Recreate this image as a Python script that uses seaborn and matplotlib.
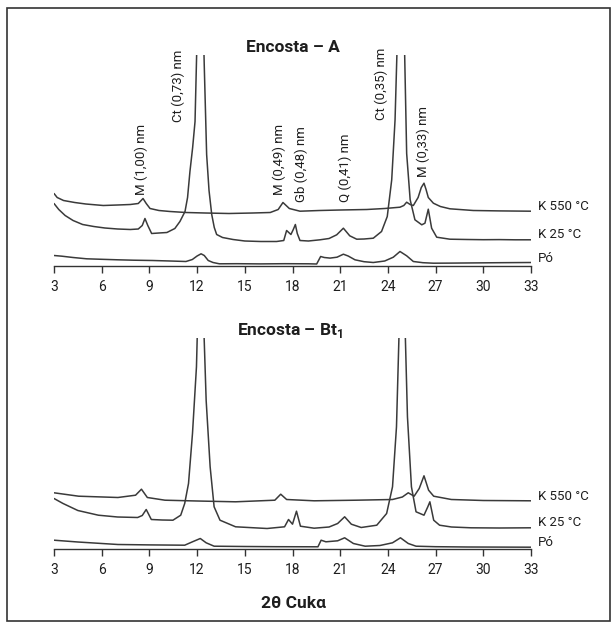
import numpy as np
import matplotlib
matplotlib.use("Agg")
import matplotlib.pyplot as plt
import matplotlib.patches as patches
import seaborn as sns

# ------------------------------------------------------------------------
# Data (2theta, relative intensity)
# ------------------------------------------------------------------------
a_po = [(3.0, 10), (3.5, 9.3), (4.2, 8), (5.05, 6.7), (6, 6.2), (7, 5.7), (8, 5.3),
        (9.2, 5), (10.3, 4.5), (11.3, 4), (11.7, 6), (12.0, 9.5), (12.25, 11.7),
        (12.45, 10), (12.7, 5), (13.0, 3), (13.4, 1.7), (14.5, 1.8), (16, 1.6),
        (17.5, 1.8), (19.0, 1.7), (19.52, 1.5), (19.77, 9), (20.0, 8), (20.36, 7.4),
        (20.8, 8.3), (21.2, 11.3), (21.5, 9.5), (21.93, 5.7), (22.5, 3.8), (23.08, 3),
        (23.8, 4.5), (24.34, 8.3), (24.76, 14), (25.18, 9.7), (25.6, 4), (26.2, 2.8),
        (26.86, 2.3), (28, 2.4), (29.5, 2.6), (31, 2.8), (33, 3)]

a_k25 = [(3.0, 62), (3.3, 56), (3.7, 50), (4.2, 45), (4.8, 41), (5.5, 39), (6.2, 37.5),
         (7, 36.5), (7.8, 36), (8.3, 36.5), (8.55, 40), (8.72, 47), (8.9, 40),
         (9.14, 32), (9.6, 32.5), (10.1, 33), (10.6, 37), (10.92, 44), (11.24, 54),
         (11.4, 68), (11.55, 94), (11.72, 118), (11.87, 144), (12.0, 230), (12.18, 330),
         (12.3, 300), (12.45, 200), (12.6, 111), (12.75, 75), (12.92, 51), (13.08, 38),
         (13.23, 31), (13.6, 28), (14.26, 26), (15, 24.5), (16, 24), (17, 24),
         (17.45, 25), (17.63, 35), (17.9, 31), (18.05, 36), (18.18, 41), (18.3, 32),
         (18.47, 25), (19, 24.5), (19.73, 25.7), (20.3, 27), (20.78, 30.7), (21.2, 37.3),
         (21.6, 29.7), (22.04, 26.3), (22.5, 26.5), (23.08, 27.3), (23.6, 34),
         (23.96, 49), (24.24, 85.7), (24.45, 145.7), (24.6, 230), (24.8, 330),
         (25.03, 230), (25.18, 112), (25.4, 65.7), (25.7, 45.7), (26.13, 40.7),
         (26.33, 42.3), (26.54, 56.3), (26.75, 37.3), (27.07, 28.3), (27.9, 26.3),
         (29, 26), (30, 25.8), (31, 25.9), (32, 25.7), (33, 25.7)]

a_k550 = [(3.0, 72), (3.2, 68), (3.6, 65), (4.3, 63), (5, 61.5), (6.1, 60), (7, 60.5),
          (7.8, 61), (8.3, 62), (8.6, 67), (8.8, 62), (9.04, 57), (9.6, 55), (10.3, 54),
          (11.3, 53), (12.5, 52.5), (14, 52), (15.5, 52.5), (16.6, 53), (17.1, 56),
          (17.4, 63), (17.6, 60), (17.8, 57), (18.47, 54.3), (19.7, 55), (21, 55.5),
          (22.67, 56), (23.8, 57), (24.76, 58.3), (25.0, 60), (25.18, 63.3), (25.4, 61),
          (25.6, 60), (25.9, 68), (26.1, 78), (26.27, 82.3), (26.4, 76), (26.54, 68),
          (26.86, 62.3), (27.3, 59), (27.9, 56.7), (29.37, 55), (31, 54.6), (33, 54.3)]

bt_po = [(3.0, 8.3), (4.5, 6.5), (7.02, 4), (9, 3.6), (11.22, 3.3), (11.71, 6.7),
         (12.2, 10), (12.57, 5.7), (13.07, 2.3), (15, 2), (17, 1.8), (19.6, 1.7),
         (19.8, 8.3), (20.1, 6.7), (20.84, 7.7), (21.28, 10.7), (21.83, 5), (22.57, 2.3),
         (23.5, 3), (24.29, 5.7), (24.79, 10.7), (25.28, 5), (25.77, 2.3), (27, 1.8),
         (29, 1.5), (31, 1.4), (33, 1.3)]

bt_k25 = [(3.0, 50), (3.57, 45), (4.5, 38), (5.79, 33.3), (7, 31.5), (8.26, 31),
          (8.55, 33), (8.8, 39), (9.12, 29), (9.8, 28.5), (10.48, 28.3), (10.97, 33.3),
          (11.22, 45), (11.46, 65), (11.71, 115), (11.96, 181.7), (12.2, 330),
          (12.57, 148), (12.82, 81.7), (13.07, 41.7), (13.44, 28.3), (14.42, 21.7),
          (16.4, 20), (17.5, 21.7), (17.75, 29), (18.0, 24.3), (18.25, 37.3), (18.5, 22.3),
          (19.36, 20.3), (20.3, 21.5), (20.84, 25), (21.28, 31.7), (21.7, 24.3),
          (22.32, 21), (23.3, 23.3), (23.92, 35), (24.29, 61.7), (24.54, 121.7),
          (24.9, 330), (25.23, 131.7), (25.48, 61.7), (25.77, 36.7), (26.27, 33.3),
          (26.51, 41.7), (26.64, 46.7), (26.88, 28.3), (27.25, 23.3), (28, 21.5),
          (29.23, 20.7), (31, 20.5), (33, 20.7)]

bt_k550 = [(3.0, 55.7), (4.55, 52.3), (7.02, 51), (8.13, 53.3), (8.5, 59.3), (8.87, 51),
           (9.98, 48.3), (12, 47.5), (14.42, 46.7), (16.89, 48.3), (17.26, 54.3),
           (17.63, 49), (19.36, 47.7), (22, 48.3), (24.29, 49), (24.91, 51.5),
           (25.28, 55.7), (25.65, 52.3), (25.97, 60), (26.27, 72.7), (26.56, 58.3),
           (26.88, 52.3), (27.99, 49), (30, 48), (33, 47.7)]

series_names = ["K 550 °C", "K 25 °C", "Pó"]
top_label_y = [58.8, 30.5, 7.2]
bottom_label_y = [51.8, 25.5, 5.5]

peak_labels = ["M (1,00) nm", "Ct (0,73) nm", "M (0,49) nm", "Gb (0,48) nm",
               "Q (0,41) nm", "Ct (0,35) nm", "M (0,33) nm"]
peak_x = [8.51, 10.82, 17.17, 18.58, 21.3, 23.6, 26.2]
peak_y = [70.5, 143.8, 70.5, 63.8, 63.8, 145.5, 88.8]

xticks = [3, 6, 9, 12, 15, 18, 21, 24, 27, 30, 33]

# ------------------------------------------------------------------------
# Style
# ------------------------------------------------------------------------
sns.set_style("white")
plt.rcParams["font.family"] = ["Roboto", "DejaVu Sans"]
plt.rcParams["mathtext.fontset"] = "custom"
plt.rcParams["mathtext.rm"] = "Roboto:bold"

line_col = "#3a3a3a"
text_col = "#1e1e1e"
W, H = 614, 626
fig = plt.figure(figsize=(W / 100, H / 100), dpi=100)


def make_axes(bottom_px):
    return fig.add_axes([54 / W, (H - bottom_px) / H, 477 / W, 211 / H])


def draw_panel(ax, traces, label_y):
    for pts in traces:
        arr = np.array(pts)
        sns.lineplot(x=arr[:, 0], y=arr[:, 1], ax=ax, color=line_col, linewidth=1.1,
                     estimator=None, sort=False)
    for name, yv in zip(series_names, label_y):
        ax.text(33.45, yv, name, fontsize=9.5, va="center", ha="left",
                color=text_col, clip_on=False)
    ax.set_xlim(3, 33)
    ax.set_ylim(0, 211)
    ax.set_xticks(xticks)
    ax.set_yticks([])
    ax.set_xlabel("")
    ax.set_ylabel("")
    for s in ["top", "left", "right"]:
        ax.spines[s].set_visible(False)
    ax.spines["bottom"].set_color("#333333")
    ax.spines["bottom"].set_linewidth(1.0)
    ax.tick_params(axis="x", direction="out", length=5, width=1.0, color="#333333",
                   labelsize=10, labelcolor=text_col, pad=5.5, bottom=True)
    ax.patch.set_alpha(0)


ax1 = make_axes(265.5)
draw_panel(ax1, [a_k550, a_k25, a_po], top_label_y)
for lab, xv, yv in zip(peak_labels, peak_x, peak_y):
    ax1.text(xv, yv, lab, rotation=90, fontsize=9.5, ha="center", va="bottom",
             color=text_col)

ax2 = make_axes(548.5)
draw_panel(ax2, [bt_k550, bt_k25, bt_po], bottom_label_y)

fig.text(293 / W, 1 - 47 / H, "Encosta – A", fontsize=12.5, fontweight="bold",
         ha="center", va="center", color=text_col)
fig.text(290 / W, 1 - 331 / H, r"Encosta – Bt$_\mathregular{1}$", fontsize=12.5,
         fontweight="bold", ha="center", va="center", color=text_col)
fig.text(293 / W, 1 - 603 / H, "2θ Cukα", fontsize=12.5, fontweight="bold",
         ha="center", va="center", color=text_col)

# frame around the figure
fig.patches.append(patches.Rectangle((7 / W, (H - 621) / H), 603 / W, 613 / H,
                                     transform=fig.transFigure, fill=False,
                                     edgecolor="#333333", linewidth=1.2))

plt.savefig("out.png", dpi=100)
plt.close()
